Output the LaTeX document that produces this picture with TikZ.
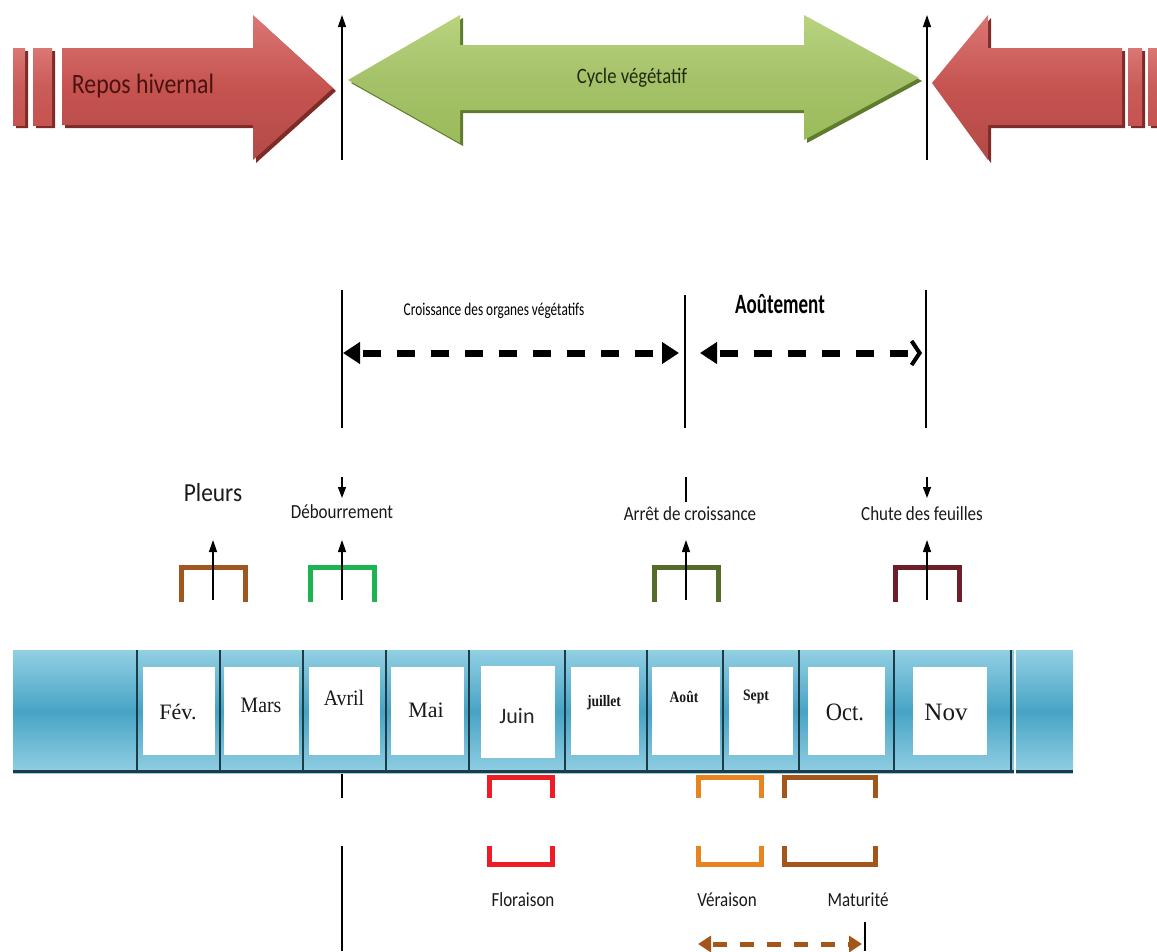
\documentclass[tikz,border=0pt]{standalone}
\usepackage{fontspec}
\setmainfont{Carlito}
\newfontfamily\monthfont{Liberation Serif}
\usetikzlibrary{arrows.meta}
\newcommand\hsq[2]{\scalebox{#1}[1]{#2}}
\definecolor{redarrow}{HTML}{C65350}
\definecolor{redlight}{HTML}{DA7774}
\definecolor{reddark}{HTML}{7E2A27}
\definecolor{redtext}{HTML}{4A1210}
\definecolor{greenarrow}{HTML}{9BBB59}
\definecolor{greenlight}{HTML}{B9D37F}
\definecolor{greendark}{HTML}{5F7B2E}
\definecolor{greentext}{HTML}{1F2A10}
\definecolor{barlight}{HTML}{92CFE3}
\definecolor{barmid}{HTML}{47A4C5}
\definecolor{bardark}{HTML}{1D3C4A}
\definecolor{cbrown}{HTML}{A0561E}
\definecolor{cgreen}{HTML}{1EB352}
\definecolor{colive}{HTML}{556B2A}
\definecolor{cwine}{HTML}{6E1E28}
\definecolor{cred}{HTML}{EE1C24}
\definecolor{corange}{HTML}{E8841F}
\definecolor{cbrowndk}{HTML}{A4561A}
\begin{document}
\begin{tikzpicture}[x=1pt,y=-1pt,
  vline/.style={line width=1.3pt, black},
  uparrow/.style={vline, -{Triangle[length=12pt,width=8pt]}},
  dasharrow/.style={line width=7pt, dash pattern=on 18pt off 16pt, dash phase=-4pt,
     {Triangle[length=17pt,width=21pt]}-{Triangle[length=17pt,width=21pt]}},
  dasharrowb/.style={line width=7pt, dash pattern=on 18pt off 16pt, dash phase=-4pt,
     {Triangle[length=17pt,width=21pt]}-{Straight Barb[length=8pt,width=24pt,line width=4pt]}},
  smalldash/.style={line width=5pt, cbrowndk, dash pattern=on 14pt off 13pt, dash phase=-3pt,
     {Triangle[length=13pt,width=16pt]}-{Triangle[length=13pt,width=16pt]}},
  stagelbl/.style={font=\fontsize{20}{20}\selectfont, inner sep=0, text=black!90},
  topbox/.style={draw, line width=5pt, minimum width=64pt, minimum height=65pt, inner sep=0},
  lowbox/.style={draw, line width=5pt, minimum height=87pt, inner sep=0},
  cell/.style={fill=white, inner sep=0, minimum height=88pt},
  month/.style={font=\monthfont\fontsize{22}{22}\selectfont, inner sep=0, text=black!90},
  smonth/.style={font=\monthfont\bfseries\fontsize{16}{16}\selectfont, inner sep=0, text=black!90},
  divider/.style={line width=1.6pt, bardark}
]
\useasboundingbox (0,0) rectangle (1157,951);

% ---------- top arrows ----------
% left red arrow (shadow, then body)
\fill[reddark] (16,51) rectangle (28,128) (36,51) rectangle (55,128);
\fill[reddark] (65,51) -- (256,51) -- (256,18) -- (336,91) -- (256,163) -- (256,128) -- (65,128) -- cycle;
\shade[top color=redlight, bottom color=redarrow, middle color=redarrow!95!white]
  (13,48) rectangle (25,125);
\shade[top color=redlight, bottom color=redarrow, middle color=redarrow!95!white]
  (33,48) rectangle (52,125);
\shade[top color=redlight, bottom color=redarrow!90!black, middle color=redarrow]
  (62,48) -- (253,48) -- (253,15) -- (333,88) -- (253,160) -- (253,125) -- (62,125) -- cycle;
\node[font=\fontsize{28}{28}\selectfont, text=redtext, inner sep=0] (repos) at (143,86) {\hsq{0.85}{Repos hivernal}};

% green double arrow
\fill[greendark] (351,83) -- (463,18) -- (463,48) -- (807,48) -- (807,18) -- (922,81) -- (807,143) -- (807,113) -- (463,113) -- (463,146) -- cycle;
\shade[top color=greenlight, bottom color=greenarrow, middle color=greenarrow!90!white]
  (348,80) -- (460,15) -- (460,45) -- (804,45) -- (804,15) -- (919,78) -- (804,140) -- (804,110) -- (460,110) -- (460,143) -- cycle;
\node[font=\fontsize{22}{22}\selectfont, text=greentext, inner sep=0] (cycle) at (632,78) {\hsq{0.85}{Cycle végétatif}};

% right red arrow
\fill[reddark] (1131,51) rectangle (1145,128) (1151,51) rectangle (1163,128);
\fill[reddark] (935,86) -- (991,18) -- (991,51) -- (1125,51) -- (1125,128) -- (991,128) -- (991,163) -- cycle;
\shade[top color=redlight, bottom color=redarrow, middle color=redarrow!95!white]
  (1128,48) rectangle (1142,125);
\shade[top color=redlight, bottom color=redarrow, middle color=redarrow!95!white]
  (1148,48) rectangle (1160,125);
\shade[top color=redlight, bottom color=redarrow!90!black, middle color=redarrow]
  (932,83) -- (988,15) -- (988,48) -- (1122,48) -- (1122,125) -- (988,125) -- (988,160) -- cycle;

% top vertical markers
\coordinate (ta1) at (342,160); \coordinate (ta2) at (342,15);
\coordinate (tb1) at (927,160); \coordinate (tb2) at (927,15);
\draw[uparrow] (ta1) -- (ta2);
\draw[uparrow] (tb1) -- (tb2);

% ---------- phases ----------
\coordinate (m1a) at (342,290); \coordinate (m1b) at (342,428);
\coordinate (m2a) at (685,295); \coordinate (m2b) at (685,428);
\coordinate (m3a) at (926,290); \coordinate (m3b) at (926,428);
\draw[vline] (m1a) -- (m1b);
\draw[vline] (m2a) -- (m2b);
\draw[vline] (m3a) -- (m3b);
\coordinate (d1a) at (343,353); \coordinate (d1b) at (679,353);
\coordinate (d2a) at (700,353); \coordinate (d2b) at (922,353);
\draw[dasharrow] (d1a) -- (d1b);
\draw[dasharrowb] (d2a) -- (d2b);
\node[font=\fontsize{18}{18}\selectfont, inner sep=0] (croiss) at (494,311) {\hsq{0.74}{Croissance des organes végétatifs}};
\node[font=\bfseries\fontsize{28}{28}\selectfont, inner sep=0] (aout) at (780,304) {\hsq{0.68}{Aoûtement}};

% ---------- stages above calendar ----------
\node[font=\fontsize{26}{26}\selectfont, inner sep=0, text=black!90] (pleurs) at (213,493) {\hsq{0.9}{Pleurs}};
\node[stagelbl] (debourr) at (342,512) {\hsq{0.85}{Débourrement}};
\node[stagelbl] (arret) at (690,514) {\hsq{0.85}{Arrêt de croissance}};
\node[stagelbl] (chute) at (922,514) {\hsq{0.85}{Chute des feuilles}};
\coordinate (s1a) at (342,477); \coordinate (s1b) at (342,498);
\coordinate (s2a) at (686,477); \coordinate (s2b) at (686,502);
\coordinate (s3a) at (927,477); \coordinate (s3b) at (927,498);
\draw[vline, -{Triangle[length=11pt,width=8pt]}] (s1a) -- (s1b);
\draw[vline] (s2a) -- (s2b);
\draw[vline, -{Triangle[length=11pt,width=8pt]}] (s3a) -- (s3b);

\node[topbox, draw=cbrown] (bpleurs) at (213,600) {};
\node[topbox, draw=cgreen] (bdeb) at (342,600) {};
\node[topbox, draw=colive] (barret) at (686,600) {};
\node[topbox, draw=cwine] (bchute) at (927,600) {};
\coordinate (tp1) at (213,540); \coordinate (tp2) at (342,540);
\coordinate (tp3) at (686,540); \coordinate (tp4) at (927,540);
\draw[uparrow] (bpleurs.center) -- (tp1);
\draw[uparrow] (bdeb.center) -- (tp2);
\draw[uparrow] (barret.center) -- (tp3);
\draw[uparrow] (bchute.center) -- (tp4);
\fill[white] (0,602) rectangle (1157,648);

% ---------- lower stages ----------
\coordinate (lo1) at (342,773); \coordinate (lo2) at (342,951);
\draw[vline] (lo1) -- (lo2);
\node[lowbox, draw=cred, minimum width=63pt] (bflor) at (521,821) {};
\node[lowbox, draw=corange, minimum width=63pt] (bver) at (730,821) {};
\node[lowbox, draw=cbrowndk, minimum width=91pt] (bmat) at (830,821) {};
\fill[white] (0,798) rectangle (1157,846);
\node[stagelbl] (flor) at (523,900) {\hsq{0.85}{Floraison}};
\node[stagelbl] (ver) at (727,900) {\hsq{0.85}{Véraison}};
\node[stagelbl] (mat) at (858,900) {\hsq{0.85}{Maturité}};
\coordinate (mt1) at (865,922); \coordinate (mt2) at (865,951);
\draw[vline] (mt1) -- (mt2);
\coordinate (bd1) at (698,944); \coordinate (bd2) at (862,944);
\draw[smalldash] (bd1) -- (bd2);

% ---------- calendar ----------
\shade[top color=barlight, bottom color=barlight, middle color=barmid] (13,650) rectangle (1073,773);
\draw[line width=3pt, bardark] (13,771.5) -- (1073,771.5);
\foreach \x in {137,220,303,386,469,565,647,723,799,894,1011}
  \draw[divider] (\x,650) -- (\x,773);
\draw[line width=2.5pt, white] (1015,648) -- (1015,775);

\node[cell, minimum width=72pt] (cfev) at (179,711) {};
\node[cell, minimum width=75pt] (cmar) at (261.5,711) {};
\node[cell, minimum width=71pt] (cavr) at (344.5,711) {};
\node[cell, minimum width=73pt] (cmai) at (427.5,711) {};
\node[cell, minimum width=74pt, minimum height=92pt] (cjun) at (518,712) {};
\node[cell, minimum width=68pt] (cjul) at (605,711) {};
\node[cell, minimum width=68pt] (caou) at (686,711) {};
\node[cell, minimum width=64pt] (csep) at (761,711) {};
\node[cell, minimum width=77pt] (coct) at (846.5,711) {};
\node[cell, minimum width=74pt] (cnov) at (950,711) {};

\node[month] (tfev) at (178,712) {Fév.};
\node[month] (tmar) at (261,705) {\hsq{0.9}{Mars}};
\node[month] (tavr) at (344,698) {\hsq{0.9}{Avril}};
\node[month] (tmai) at (426,710) {Mai};
\node[font=\fontsize{22}{22}\selectfont, inner sep=0, text=black!85] (tjun) at (517,716) {Juin};
\node[smonth] (tjul) at (604,703) {\hsq{0.85}{juillet}};
\node[smonth] (taou) at (684,697) {\hsq{0.85}{Août}};
\node[smonth] (tsep) at (756,697) {\hsq{0.85}{Sept}};
\node[month, font=\monthfont\fontsize{25}{25}\selectfont] (toct) at (845,712) {\hsq{0.9}{Oct.}};
\node[month, font=\monthfont\fontsize{25}{25}\selectfont] (tnov) at (946,712) {Nov};
\end{tikzpicture}
\end{document}
